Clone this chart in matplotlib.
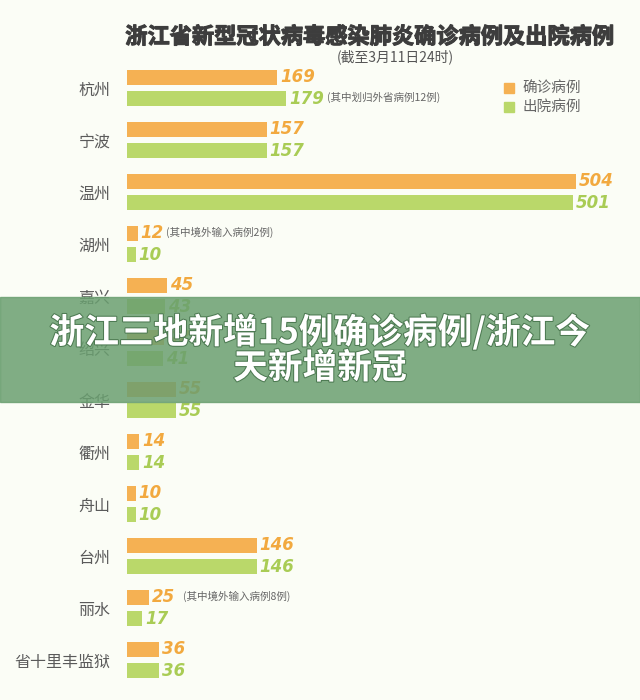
import matplotlib
matplotlib.use("Agg")
import matplotlib.pyplot as plt
from matplotlib.patches import Rectangle
import matplotlib.patheffects as pe
import numpy as np

plt.rcParams['font.family'] = ['Noto Sans CJK SC', 'DejaVu Sans']

cities = ["杭州", "宁波", "温州", "湖州", "嘉兴", "绍兴", "金华", "衢州", "舟山", "台州", "丽水", "省十里丰监狱"]
confirmed = [169, 157, 504, 12, 45, 42, 55, 14, 10, 146, 25, 36]
discharged = [179, 157, 501, 10, 43, 41, 55, 14, 10, 146, 17, 36]
notes = {("出院", 0): "(其中划归外省病例12例)",
         ("确诊", 3): "(其中境外输入病例2例)",
         ("确诊", 10): "(其中境外输入病例8例)"}
series_names = ["确诊病例", "出院病例"]
title = "浙江省新型冠状病毒感染肺炎确诊病例及出院病例"
subtitle = "(截至3月11日24时)"
banner_lines = ["浙江三地新增15例确诊病例/浙江今", "天新增新冠"]

BG = "#fbfdf6"
ORANGE = "#f5b153"
GREEN = "#bad86a"

W, H = 640, 700
fig = plt.figure(figsize=(6.4, 7.0), dpi=100, facecolor=BG)
ax = fig.add_axes([127 / W, 0, (W - 127) / W, 1])
ax.set_facecolor(BG)
px_per_unit = 0.89
ax.set_xlim(0, (W - 127) / px_per_unit)
row0, step = 88, 52
ax.set_ylim((H - row0) / step, -row0 / step)

y = np.arange(len(cities))
off = 10.5 / step
h = 15.5 / step
ax.barh(y - off, confirmed, height=h, color=ORANGE, edgecolor="none")
ax.barh(y + off, discharged, height=h, color=GREEN, edgecolor="none")

note_offsets = {("出院", 0): 29, ("确诊", 3): 20.5, ("确诊", 10): 24}
for i in range(len(cities)):
    for kind, vals, yy, col in (("确诊", confirmed, y[i] - off, "#f2a93f"),
                                ("出院", discharged, y[i] + off, "#a9cc55")):
        ax.annotate(str(vals[i]), (vals[i], yy), xytext=(2, 0), textcoords="offset points",
                    ha="left", va="center", fontsize=12, fontweight="bold", style="italic",
                    family="DejaVu Sans", color=col)
        key = (kind, i)
        if key in notes:
            ax.annotate(notes[key], (vals[i], yy), xytext=(note_offsets[key], 0.5),
                        textcoords="offset points",
                        ha="left", va="center", fontsize=7.6, color="#666666")

ax.set_yticks(y)
ax.set_yticklabels(cities, fontsize=11.5, color="#5a5a5a")
ax.tick_params(axis="y", length=0, pad=12)
ax.set_xticks([])
for s in ax.spines.values():
    s.set_visible(False)

fig.text(370 / W, 1 - 37 / H, title, ha="center", va="center", fontsize=16,
         fontweight="black", color="#3d3d3d",
         path_effects=[pe.withStroke(linewidth=0.8, foreground="#3d3d3d")])
fig.text(395 / W, 1 - 57 / H, subtitle, ha="center", va="center", fontsize=10, color="#555555")

for k, (name, col) in enumerate(zip(series_names, [ORANGE, GREEN])):
    yc = 88 + k * 19
    fig.patches.append(Rectangle((504 / W, 1 - (yc + 5) / H), 10 / W, 10 / H,
                                 transform=fig.transFigure, color=col))
    fig.text(522 / W, 1 - yc / H, name, ha="left", va="center", fontsize=10.5, color="#666666")

fig.patches.append(Rectangle((0, 1 - 402 / H), 1, 105 / H, transform=fig.transFigure,
                             color="#6a9f70", alpha=0.85, zorder=5))
for j, line in enumerate(banner_lines):
    fig.text(0.5, 1 - (332 + 36 * j) / H, line, ha="center", va="center", fontsize=25,
             fontweight="bold", color="white", zorder=6,
             path_effects=[pe.withStroke(linewidth=1.5, foreground="#4d7a52")])

fig.savefig("out.png", dpi=100, facecolor=BG)
